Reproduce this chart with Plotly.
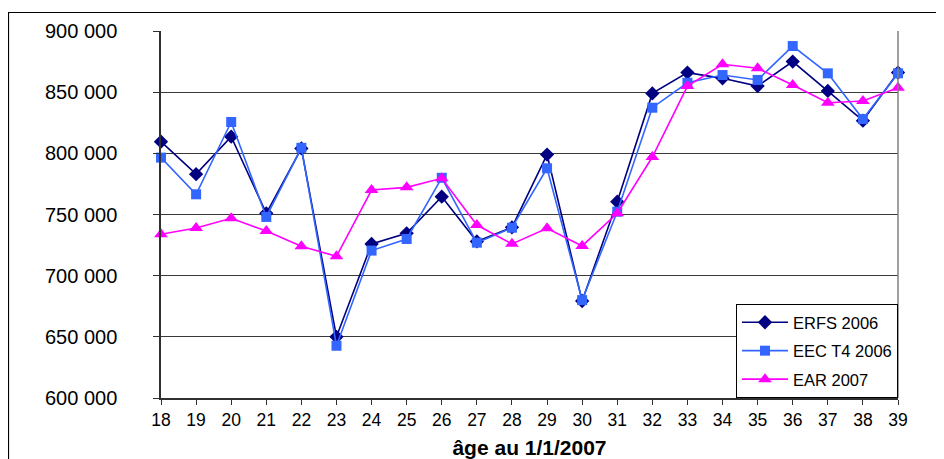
import plotly.graph_objects as go

ages = list(range(18, 40))
erfs_2006 = [809500, 783000, 813600, 751000, 804000, 650000, 725900, 734600, 764600, 728000, 739500,
             799000, 679300, 760500, 849000, 866000, 861300, 855000, 875000, 851000, 826700, 866000]
eec_t4_2006 = [796500, 766500, 825600, 748000, 804500, 642700, 720500, 730000, 780000, 727000, 739200,
               787800, 680000, 752300, 837300, 857700, 864000, 860000, 887700, 865400, 828000, 865400]
ear_2007 = [733800, 739000, 746900, 736500, 724000, 715800, 770000, 772200, 779600, 741400, 726000,
            738700, 724300, 751000, 797000, 855000, 872800, 869500, 855900, 841400, 842800, 853700]
y_ticks = [600000, 650000, 700000, 750000, 800000, 850000, 900000]
y_tick_labels = ["600 000", "650 000", "700 000", "750 000", "800 000", "850 000", "900 000"]

series = [
    ("ERFS 2006", erfs_2006, "#000080", "diamond", 11),
    ("EEC T4 2006", eec_t4_2006, "#3366FF", "square", 10),
    ("EAR 2007", ear_2007, "#FF00FF", "triangle-up", 12),
]

fig = go.Figure()
for i, (name, vals, col, sym, sz) in enumerate(series):
    fig.add_trace(go.Scatter(
        x=ages, y=vals, name=name, mode="lines+markers",
        line=dict(color=col, width=1.6),
        marker=dict(symbol=sym, size=sz, color=col, line=dict(width=0)),
        legendgroup=f"g{i}",
        cliponaxis=False,
    ))

# the page body adds an 8px offset; the figure is sized to compensate
OFF = 8
L, R, T, B = 161 - OFF, 46, 31 - OFF, 61
W, H = 944 - OFF, 459 - OFF
pw, ph = W - L - R, H - T - B

def px_x(x):
    return (x - OFF - L) / pw

def px_y(y):
    return (H - B - (y - OFF)) / ph

fig.update_layout(
    width=W, height=H,
    margin=dict(l=L, r=R, t=T, b=B, pad=0, autoexpand=False),
    paper_bgcolor="white", plot_bgcolor="white",
    font=dict(family="Liberation Sans, Arial, sans-serif", color="black"),
    showlegend=True,
    legend=dict(
        x=1, y=0, xanchor="right", yanchor="bottom",
        bgcolor="white", bordercolor="black", borderwidth=1,
        font=dict(size=16.5, color="black"),
        tracegroupgap=4,
        itemwidth=46,
    ),
    xaxis=dict(
        range=[18, 39], tickmode="array", tickvals=ages, ticktext=[str(a) for a in ages],
        showgrid=False, zeroline=False, automargin=False,
        showline=True, linecolor="#303030", linewidth=1.5,
        ticks="outside", ticklen=5, tickcolor="#303030",
        tickfont=dict(size=17.5),
        title=dict(text="<b>âge au 1/1/2007</b>", font=dict(size=21), standoff=12),
    ),
    yaxis=dict(
        range=[600000, 900000], tickmode="array", tickvals=y_ticks, ticktext=y_tick_labels,
        showgrid=True, gridcolor="#3a3a3a", gridwidth=1,
        zeroline=False, automargin=False,
        showline=True, linecolor="#303030", linewidth=1.5,
        ticks="outside", ticklen=6, tickcolor="#303030",
        tickfont=dict(size=20),
        ticklabelstandoff=32,
    ),
    shapes=[
        dict(type="line", xref="paper", yref="paper", x0=1, x1=1, y0=0, y1=1,
             line=dict(color="#808080", width=1.5)),
        dict(type="line", xref="paper", yref="paper", x0=px_x(8.5), x1=px_x(8.5),
             y0=px_y(12), y1=px_y(470), line=dict(color="black", width=1.2)),
        dict(type="line", xref="paper", yref="paper", x0=px_x(8), x1=px_x(944),
             y0=px_y(12.5), y1=px_y(12.5), line=dict(color="black", width=1.2)),
    ],
)

fig.write_html("out.html")
